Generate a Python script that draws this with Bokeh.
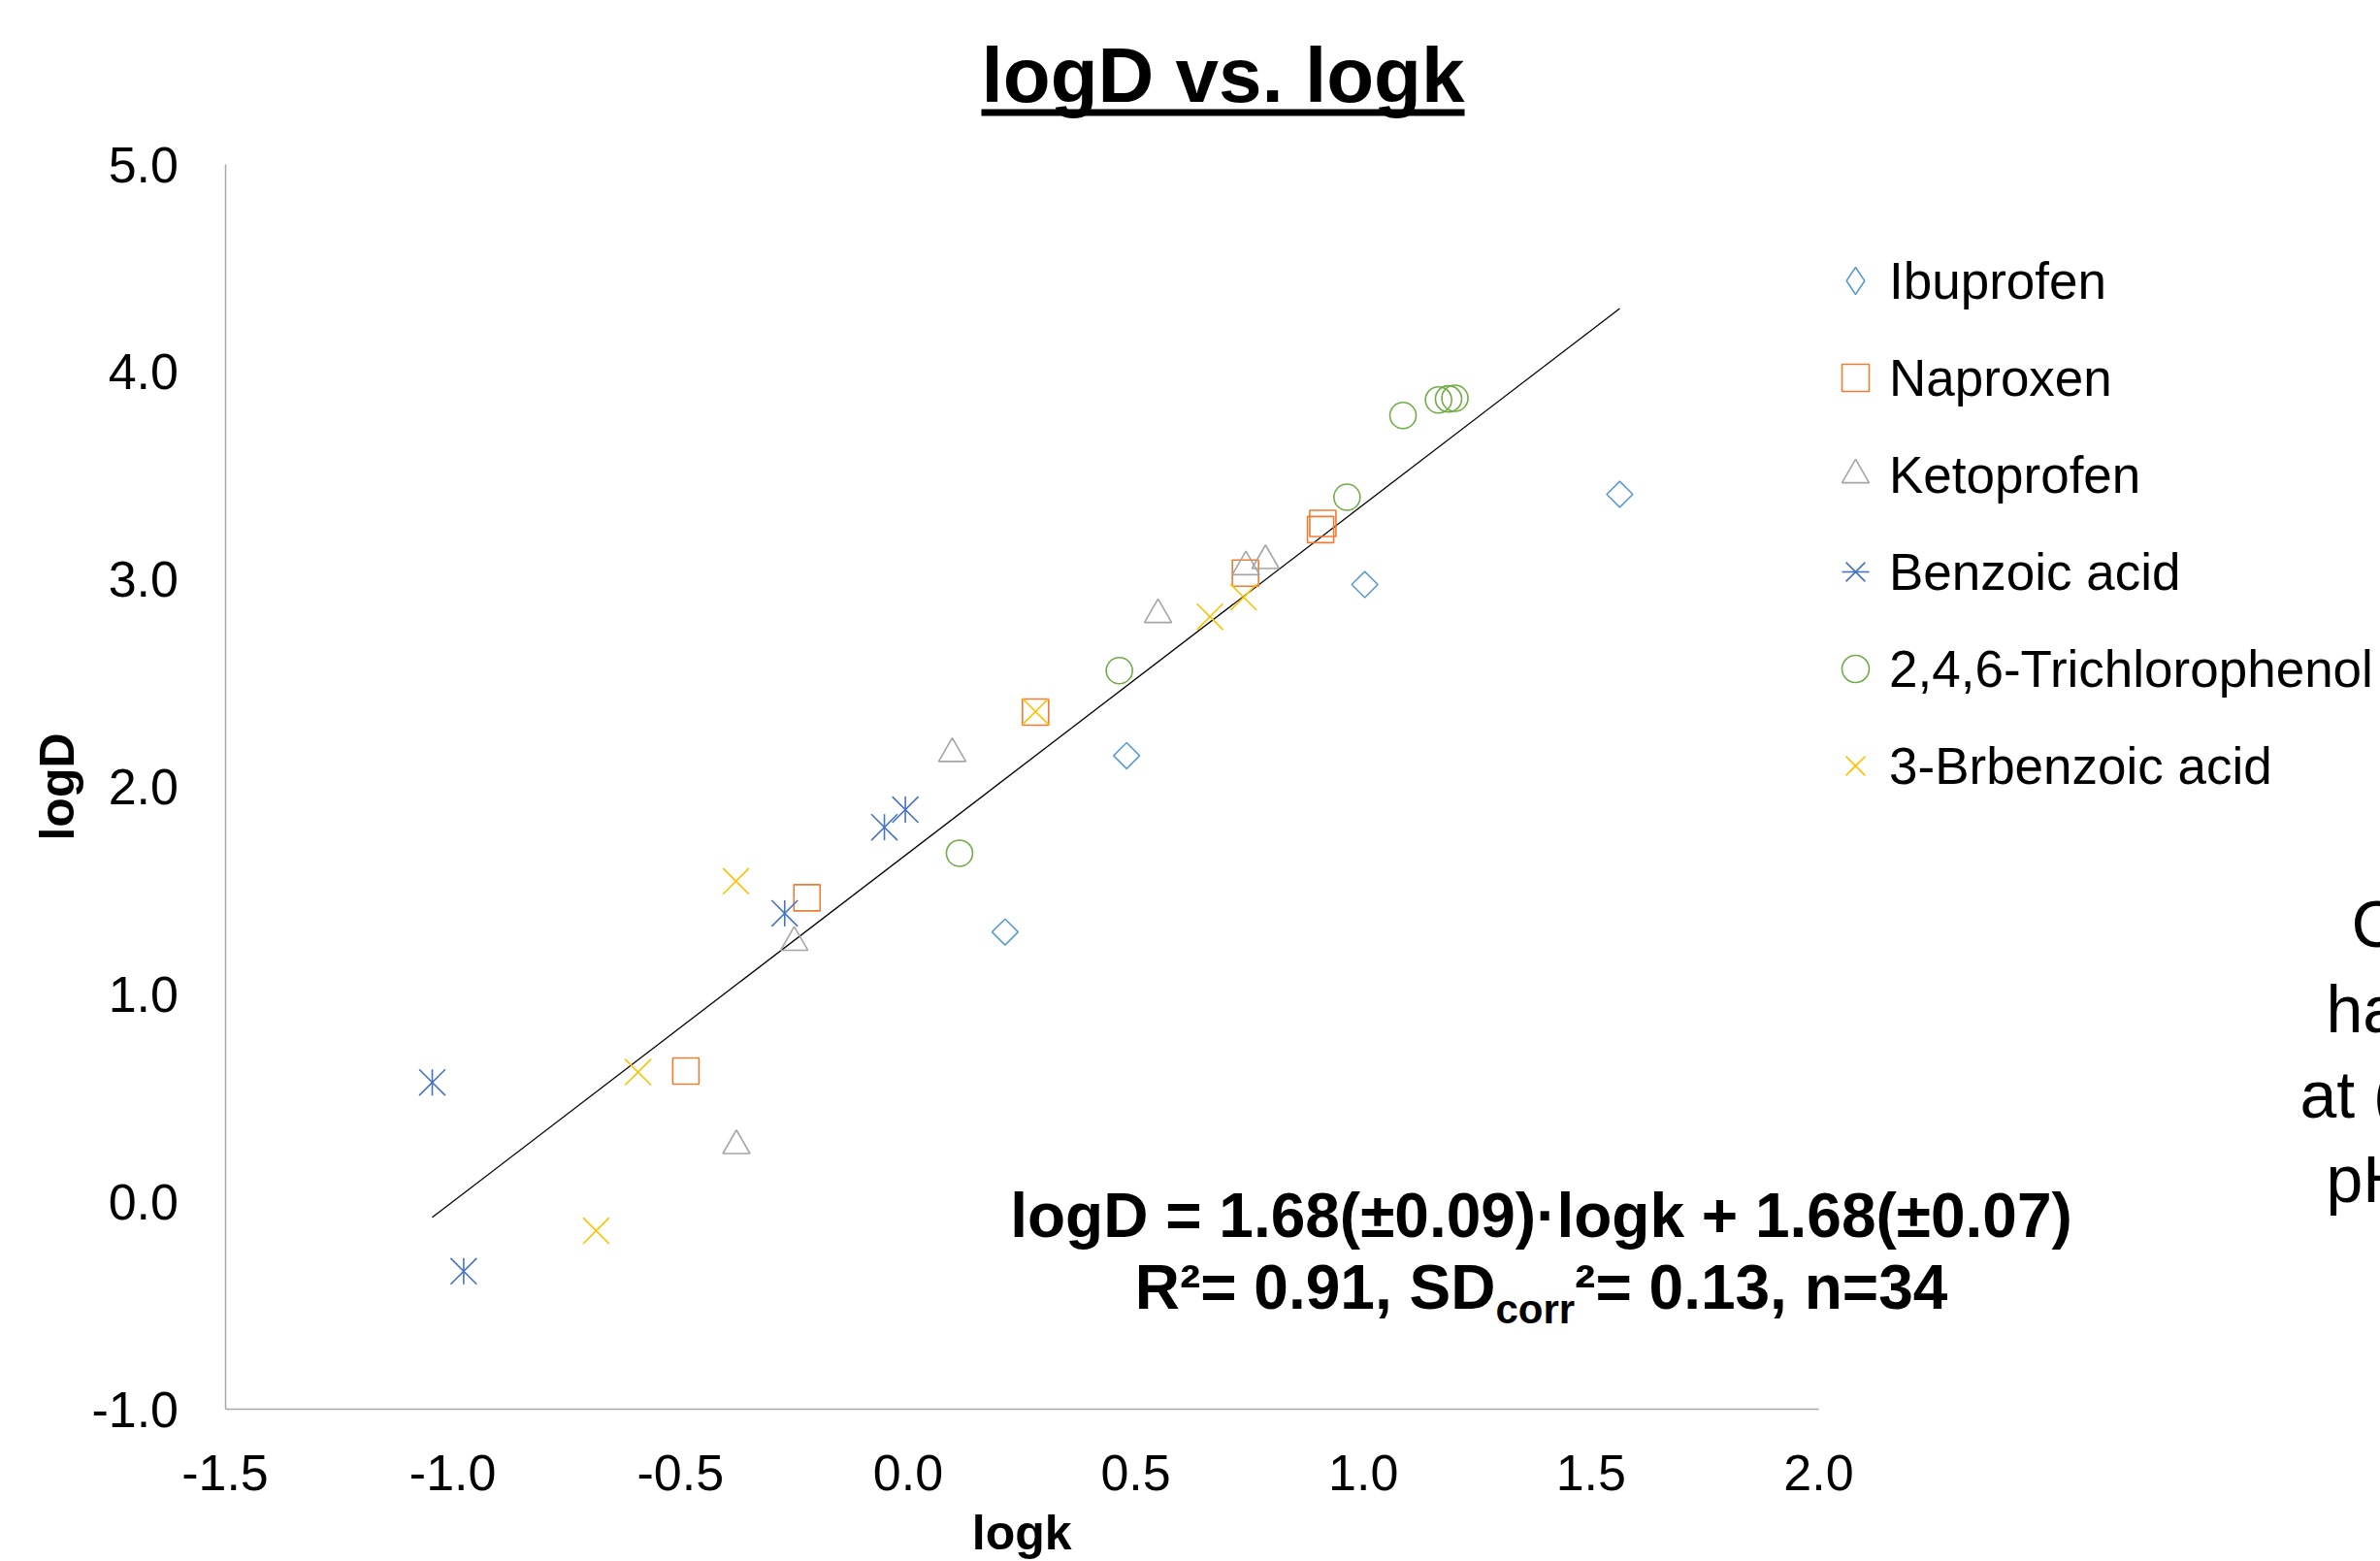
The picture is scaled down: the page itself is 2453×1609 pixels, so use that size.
import math
from bokeh.plotting import figure
from bokeh.models import (Range1d, FixedTicker, PrintfTickFormatter, Label, BoxAnnotation,
                          Legend, LegendItem, ColumnDataSource)
from bokeh.embed import file_html
from bokeh.resources import INLINE

FONT = "Liberation Sans"

# ---------------- data ----------------
series_names = ["Ibuprofen", "Naproxen", "Ketoprofen", "Benzoic acid",
                "2,4,6-Trichlorophenol", "3-Brbenzoic acid"]

ibuprofen_logk = [1.563, 1.003, 0.480, 0.213]
ibuprofen_logD = [3.41, 2.975, 2.15, 1.30]

naproxen_logk = [0.911, 0.906, 0.741, 0.280, -0.222, -0.488]
naproxen_logD = [3.27, 3.24, 3.03, 2.36, 1.465, 0.63]

ketoprofen_logk = [0.785, 0.742, 0.549, 0.097, -0.250, -0.377]
ketoprofen_logD = [3.09, 3.06, 2.83, 2.16, 1.25, 0.27]

benzoic_logk = [-0.006, -0.052, -0.271, -1.045, -0.976]
benzoic_logD = [1.89, 1.805, 1.39, 0.575, -0.335]

tcp_logk = [1.201, 1.187, 1.165, 1.087, 0.964, 0.464, 0.113]
tcp_logD = [3.873, 3.87, 3.865, 3.79, 3.396, 2.56, 1.68]

brbenzoic_logk = [0.737, 0.663, 0.280, -0.378, -0.593, -0.685]
brbenzoic_logD = [2.914, 2.82, 2.363, 1.545, 0.625, -0.14]

slope = 1.68
intercept = 1.68

x_ticks = [-1.5, -1.0, -0.5, 0.0, 0.5, 1.0, 1.5, 2.0]
y_ticks = [-1.0, 0.0, 1.0, 2.0, 3.0, 4.0, 5.0]

title_text = "logD vs. logk"
x_label = "logk"
y_label = "logD"
eq_line1 = "logD = 1.68(±0.09)·logk + 1.68(±0.07)"
eq_line2_parts = ["R²= 0.91, SD", "corr", "²= 0.13, n=34"]
side_text = ["C", "ha", "at (", "pH"]

colors = ["#5B9BD5", "#ED7D31", "#A5A5A5", "#4472C4", "#70AD47", "#FFC000"]

# ---------------- layout geometry (pixels on the canvas) ----------------
W, H = 2453, 1609
X_AX = (x_ticks[0], x_ticks[-1])
Y_AX = (y_ticks[0], y_ticks[-1])
PX_X0, PX_X1 = 231.5, 1874.0     # canvas x of x=-1.5 and x=2.0
PX_Y0, PX_Y1 = 1452.0, 169.0     # canvas y of y=-1.0 and y=5.0
ux = (PX_X1 - PX_X0) / (X_AX[1] - X_AX[0])
uy = (PX_Y0 - PX_Y1) / (Y_AX[1] - Y_AX[0])
x_range = Range1d(X_AX[0] - PX_X0 / ux, X_AX[1] + (W - PX_X1) / ux)
y_range = Range1d(Y_AX[0] - (H - PX_Y0) / uy, Y_AX[1] + PX_Y1 / uy)

p = figure(width=W, height=H, output_backend="svg", toolbar_location=None,
           x_range=x_range, y_range=y_range,
           min_border=0, min_border_left=0, min_border_right=0,
           min_border_top=0, min_border_bottom=0)
p.xgrid.visible = False
p.ygrid.visible = False
p.outline_line_color = None
p.background_fill_color = "white"
p.border_fill_color = "white"

for ax in (p.xaxis[0], p.yaxis[0]):
    ax.axis_line_color = "#a6a6a6"
    ax.axis_line_width = 1.5
    ax.major_tick_line_color = None
    ax.minor_tick_line_color = None
    ax.major_tick_out = 0
    ax.major_tick_in = 0
    ax.minor_tick_out = 0
    ax.minor_tick_in = 0
    ax.major_label_text_font = FONT
    ax.major_label_text_font_size = "52px"
    ax.major_label_text_color = "black"

p.xaxis.ticker = FixedTicker(ticks=x_ticks)
p.yaxis.ticker = FixedTicker(ticks=y_ticks)
p.xaxis.formatter = PrintfTickFormatter(format="%.1f")
p.yaxis.formatter = PrintfTickFormatter(format="%.1f")
p.xaxis.fixed_location = Y_AX[0]
p.yaxis.fixed_location = X_AX[0]
p.xaxis.bounds = X_AX
p.yaxis.bounds = Y_AX
p.xaxis.major_label_standoff = 47
p.yaxis.major_label_standoff = 48

# regression line across the data span
all_x = (ibuprofen_logk + naproxen_logk + ketoprofen_logk + benzoic_logk
         + tcp_logk + brbenzoic_logk)
x0, x1 = min(all_x), max(all_x)
p.line([x0, x1], [slope * x0 + intercept, slope * x1 + intercept],
       line_color="black", line_width=1.3)

LW = 1.6
def src(x, y):
    return ColumnDataSource(dict(x=x, y=y))

s_ibu = src(ibuprofen_logk, ibuprofen_logD)
r_ibu = p.scatter("x", "y", source=s_ibu, marker="square", angle=math.pi / 4, size=19,
                  fill_color=None, line_color=colors[0], line_width=LW)
r_ibu_leg = p.scatter("x", "y", source=s_ibu, marker="diamond", size=27,
                      fill_color=None, line_color=colors[0], line_width=LW, visible=False)

r_nap = p.scatter("x", "y", source=src(naproxen_logk, naproxen_logD), marker="square",
                  size=27, fill_color=None, line_color=colors[1], line_width=LW)
r_keto = p.scatter("x", "y", source=src(ketoprofen_logk, ketoprofen_logD), marker="triangle",
                   size=28, fill_color=None, line_color=colors[2], line_width=LW)
s_benz = src(benzoic_logk, benzoic_logD)
r_benz_x = p.scatter("x", "y", source=s_benz, marker="x", size=38,
                     line_color=colors[3], line_width=LW)
r_benz_v = p.scatter("x", "y", source=s_benz, marker="dash", angle=math.pi / 2, size=27,
                     line_color=colors[3], line_width=LW)
r_tcp = p.scatter("x", "y", source=src(tcp_logk, tcp_logD), marker="circle", size=27,
                  fill_color=None, line_color=colors[4], line_width=LW)
r_br = p.scatter("x", "y", source=src(brbenzoic_logk, brbenzoic_logD), marker="x", size=38,
                 line_color=colors[5], line_width=LW)

# legend: glyph centres near x=1914, rows every ~100px starting at y=289
LEG_TOP, ROW_H, ROW_GAP, N = 254.4, 70, 30, len(series_names)
leg_h = N * ROW_H + (N - 1) * ROW_GAP
legend = Legend(items=[
    LegendItem(label=series_names[0], renderers=[r_ibu_leg]),
    LegendItem(label=series_names[1], renderers=[r_nap]),
    LegendItem(label=series_names[2], renderers=[r_keto]),
    LegendItem(label=series_names[3], renderers=[r_benz_x, r_benz_v]),
    LegendItem(label=series_names[4], renderers=[r_tcp]),
    LegendItem(label=series_names[5], renderers=[r_br]),
], location=(1877, H - (LEG_TOP + leg_h)))
legend.padding = 0
legend.margin = 0
legend.spacing = ROW_GAP
legend.glyph_width = ROW_H
legend.glyph_height = ROW_H
legend.label_height = ROW_H
legend.label_standoff = 0
legend.border_line_color = None
legend.background_fill_alpha = 0
legend.label_text_font = FONT
legend.label_text_font_size = "53px"
legend.label_text_color = "black"
legend.inactive_fill_alpha = 0
p.add_layout(legend)

# ---------------- texts (canvas pixels; y given as text baseline) ----------------
MID = 0.347  # distance from the baseline to the middle of the text box, in em

def lab(text, x, base, size, bold=False, align="left", angle=0.0, baseline_is_mid=False):
    y = base if baseline_is_mid else base - MID * size
    p.add_layout(Label(x=x, y=y, x_units="canvas", y_units="canvas", text=text,
                       angle=angle, text_align=align, text_baseline="middle",
                       text_font=FONT, text_font_size=f"{size}px",
                       text_font_style="bold" if bold else "normal",
                       text_line_height=1.0, text_color="black"))

lab(title_text, 1260, 105, 80, bold=True, align="center")
p.add_layout(BoxAnnotation(left=1011, right=1509, top=112, bottom=119,
                           left_units="canvas", right_units="canvas",
                           top_units="canvas", bottom_units="canvas",
                           fill_color="black", fill_alpha=1.0, line_color=None))

lab(x_label, (PX_X0 + PX_X1) / 2, 1597, 50, bold=True, align="center")
lab(y_label, 58, (PX_Y0 + PX_Y1) / 2, 50, bold=True, align="center",
    angle=math.pi / 2, baseline_is_mid=True)

EQ_CX = 1588
lab(eq_line1, EQ_CX, 1275, 64, bold=True, align="center")

BOLD_W = {'R': 722, '²': 333, '=': 584, ' ': 278, '0': 556, '1': 556, '3': 556, '4': 556,
          '9': 556, '.': 278, ',': 278, 'S': 667, 'D': 722, 'c': 556, 'o': 611,
          'r': 389, 'n': 611}
def tw(s, size):
    return sum(BOLD_W.get(ch, 556) for ch in s) * size / 1000.0

sizes = [64, 42, 64]
offs = [0, 15, 0]
total = sum(tw(t, s) for t, s in zip(eq_line2_parts, sizes))
xpos = EQ_CX - total / 2
for t, s, o in zip(eq_line2_parts, sizes, offs):
    lab(t, xpos, 1349 + o, s, bold=True)
    xpos += tw(t, s)

side_x = [2423, 2397, 2370, 2397]
side_y = [975, 1063, 1151, 1238]
for t, sx, sy in zip(side_text, side_x, side_y):
    lab(t, sx, sy, 68)

open("out.html", "w").write(file_html(p, INLINE))
